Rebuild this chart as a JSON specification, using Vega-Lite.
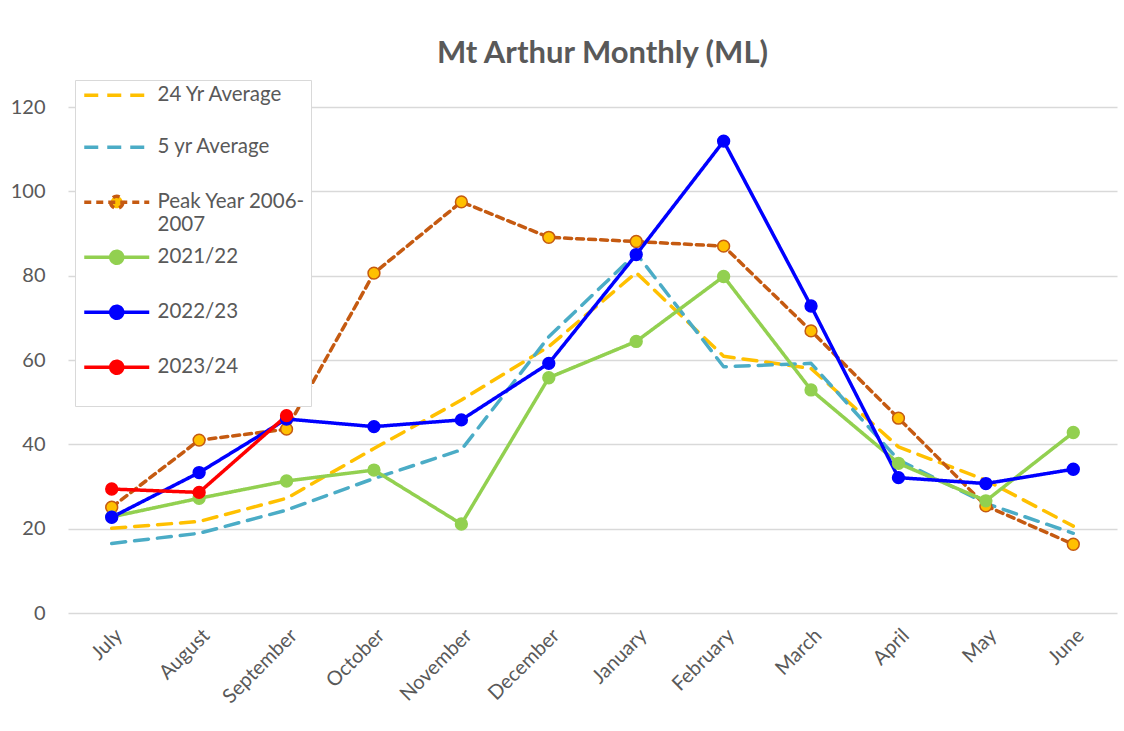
{
  "$schema": "https://vega.github.io/schema/vega-lite/v6.json",
  "autosize": {"type": "none"},
  "padding": {"left": 68, "top": 107, "right": 7, "bottom": 118},
  "width": 1049,
  "height": 506,
  "background": "white",
  "title": {
    "text": "Mt Arthur Monthly (ML)",
    "fontSize": 31,
    "fontWeight": "bold",
    "font": "Lato",
    "color": "#595959",
    "anchor": "middle",
    "baseline": "alphabetic",
    "offset": -14,
    "dx": 10
  },
  "data": {
    "values": [
      {"month": "July", "series": "24 Yr Average", "value": 20.1},
      {"month": "August", "series": "24 Yr Average", "value": 21.7},
      {"month": "September", "series": "24 Yr Average", "value": 27.2},
      {"month": "October", "series": "24 Yr Average", "value": 39.0},
      {"month": "November", "series": "24 Yr Average", "value": 50.5},
      {"month": "December", "series": "24 Yr Average", "value": 63.2},
      {"month": "January", "series": "24 Yr Average", "value": 80.7},
      {"month": "February", "series": "24 Yr Average", "value": 60.9},
      {"month": "March", "series": "24 Yr Average", "value": 58.0},
      {"month": "April", "series": "24 Yr Average", "value": 39.4},
      {"month": "May", "series": "24 Yr Average", "value": 31.5},
      {"month": "June", "series": "24 Yr Average", "value": 20.6},
      {"month": "July", "series": "5 yr Average", "value": 16.5},
      {"month": "August", "series": "5 yr Average", "value": 18.9},
      {"month": "September", "series": "5 yr Average", "value": 24.4},
      {"month": "October", "series": "5 yr Average", "value": 31.9},
      {"month": "November", "series": "5 yr Average", "value": 38.7},
      {"month": "December", "series": "5 yr Average", "value": 65.5},
      {"month": "January", "series": "5 yr Average", "value": 85.3},
      {"month": "February", "series": "5 yr Average", "value": 58.4},
      {"month": "March", "series": "5 yr Average", "value": 59.2},
      {"month": "April", "series": "5 yr Average", "value": 36.3},
      {"month": "May", "series": "5 yr Average", "value": 26.0},
      {"month": "June", "series": "5 yr Average", "value": 18.9},
      {"month": "July", "series": "Peak Year 2006-2007", "value": 25.1},
      {"month": "August", "series": "Peak Year 2006-2007", "value": 41.0},
      {"month": "September", "series": "Peak Year 2006-2007", "value": 43.6},
      {"month": "October", "series": "Peak Year 2006-2007", "value": 80.6},
      {"month": "November", "series": "Peak Year 2006-2007", "value": 97.5},
      {"month": "December", "series": "Peak Year 2006-2007", "value": 89.1},
      {"month": "January", "series": "Peak Year 2006-2007", "value": 88.1},
      {"month": "February", "series": "Peak Year 2006-2007", "value": 87.0},
      {"month": "March", "series": "Peak Year 2006-2007", "value": 66.9},
      {"month": "April", "series": "Peak Year 2006-2007", "value": 46.2},
      {"month": "May", "series": "Peak Year 2006-2007", "value": 25.4},
      {"month": "June", "series": "Peak Year 2006-2007", "value": 16.3},
      {"month": "July", "series": "2021/22", "value": 22.8},
      {"month": "August", "series": "2021/22", "value": 27.2},
      {"month": "September", "series": "2021/22", "value": 31.3},
      {"month": "October", "series": "2021/22", "value": 33.9},
      {"month": "November", "series": "2021/22", "value": 21.1},
      {"month": "December", "series": "2021/22", "value": 55.8},
      {"month": "January", "series": "2021/22", "value": 64.4},
      {"month": "February", "series": "2021/22", "value": 79.8},
      {"month": "March", "series": "2021/22", "value": 52.9},
      {"month": "April", "series": "2021/22", "value": 35.5},
      {"month": "May", "series": "2021/22", "value": 26.6},
      {"month": "June", "series": "2021/22", "value": 42.8},
      {"month": "July", "series": "2022/23", "value": 22.7},
      {"month": "August", "series": "2022/23", "value": 33.3},
      {"month": "September", "series": "2022/23", "value": 46.0},
      {"month": "October", "series": "2022/23", "value": 44.2},
      {"month": "November", "series": "2022/23", "value": 45.8},
      {"month": "December", "series": "2022/23", "value": 59.2},
      {"month": "January", "series": "2022/23", "value": 85.0},
      {"month": "February", "series": "2022/23", "value": 111.9},
      {"month": "March", "series": "2022/23", "value": 72.8},
      {"month": "April", "series": "2022/23", "value": 32.1},
      {"month": "May", "series": "2022/23", "value": 30.7},
      {"month": "June", "series": "2022/23", "value": 34.1},
      {"month": "July", "series": "2023/24", "value": 29.4},
      {"month": "August", "series": "2023/24", "value": 28.6},
      {"month": "September", "series": "2023/24", "value": 46.8}
    ]
  },
  "encoding": {
    "x": {
      "field": "month",
      "type": "nominal",
      "sort": ["July", "August", "September", "October", "November", "December", "January", "February", "March", "April", "May", "June"],
      "scale": {"type": "point", "padding": 0.5},
      "axis": {
        "title": null,
        "labelAngle": -45,
        "labelFont": "Lato",
        "labelFontSize": 20,
        "labelColor": "#595959",
        "labelPadding": 12,
        "ticks": false,
        "domain": false,
        "grid": false
      }
    },
    "y": {
      "field": "value",
      "type": "quantitative",
      "scale": {"domain": [0, 120], "nice": false},
      "axis": {
        "title": null,
        "values": [0, 20, 40, 60, 80, 100, 120],
        "labelFont": "Lato",
        "labelFontSize": 20,
        "labelColor": "#595959",
        "labelPadding": 23,
        "ticks": false,
        "domain": false,
        "gridColor": "#D9D9D9",
        "gridWidth": 1.3
      }
    }
  },
  "layer": [
    {
      "mark": {"type": "line", "strokeCap": "round", "strokeJoin": "round"},
      "encoding": {
        "color": {
          "field": "series",
          "type": "nominal",
          "scale": {
            "domain": ["24 Yr Average", "5 yr Average", "Peak Year 2006-2007", "2021/22", "2022/23", "2023/24"],
            "range": ["#FFC000", "#4BACC6", "#C55A11", "#92D050", "#0000FF", "#FF0000"]
          },
          "legend": {
            "title": null,
            "orient": "none",
            "legendX": 7,
            "legendY": -27,
            "padding": 5,
            "fillColor": "white",
            "strokeColor": "#D9D9D9",
            "symbolType": "stroke",
            "symbolSize": 256,
            "symbolStrokeWidth": 4,
            "labelFont": "Lato",
            "labelFontSize": 20.5,
            "labelColor": "#595959",
            "labelLimit": 300,
            "labelOffset": 57,
            "labelLineHeight": 26,
            "rowPadding": 8,
            "labelExpr": "datum.label == 'Peak Year 2006-2007' ? ['Peak Year 2006-', '2007'] : [datum.label, '']",
            "encode": {
              "symbols": {
                "update": {
                  "shape": {"signal": "indexof(['Peak Year 2006-2007','2021/22','2022/23','2023/24'], datum.value) >= 0 ? 'M-0.75,0H7.375M4.06,0A0.75,0.75,0,1,1,2.56,0A0.75,0.75,0,1,1,4.06,0' : 'M-0.75,0H7.375'"},
                  "fill": {"signal": "datum.value == 'Peak Year 2006-2007' ? '#FFC000' : datum.value == '2021/22' ? '#92D050' : datum.value == '2022/23' ? '#0000FF' : datum.value == '2023/24' ? '#FF0000' : 'transparent'"}
                }
              }
            }
          }
        },
        "strokeDash": {
          "field": "series",
          "type": "nominal",
          "scale": {
            "domain": ["24 Yr Average", "5 yr Average", "Peak Year 2006-2007", "2021/22", "2022/23", "2023/24"],
            "range": [[14, 9], [14, 9], [7, 5], [1, 0], [1, 0], [1, 0]]
          }
        },
        "strokeWidth": {
          "field": "series",
          "type": "nominal",
          "scale": {
            "domain": ["24 Yr Average", "5 yr Average", "Peak Year 2006-2007", "2021/22", "2022/23", "2023/24"],
            "range": [3.5, 3.5, 3, 4.5, 4.5, 4.5]
          },
          "legend": null
        }
      }
    },
    {
      "transform": [{"filter": "indexof(['Peak Year 2006-2007','2021/22','2022/23','2023/24'], datum.series) >= 0"}],
      "mark": {"type": "point", "shape": "circle", "filled": true, "size": 140, "opacity": 1, "strokeWidth": 1.5},
      "encoding": {
        "fill": {
          "field": "series",
          "type": "nominal",
          "scale": {
            "domain": ["Peak Year 2006-2007", "2021/22", "2022/23", "2023/24"],
            "range": ["#FFC000", "#92D050", "#0000FF", "#FF0000"]
          },
          "legend": null
        },
        "stroke": {
          "field": "series",
          "type": "nominal",
          "scale": {
            "domain": ["Peak Year 2006-2007", "2021/22", "2022/23", "2023/24"],
            "range": ["#C55A11", "#92D050", "#0000FF", "#FF0000"]
          },
          "legend": null
        }
      }
    }
  ],
  "config": {
    "view": {"stroke": null},
    "font": "Lato"
  }
}
